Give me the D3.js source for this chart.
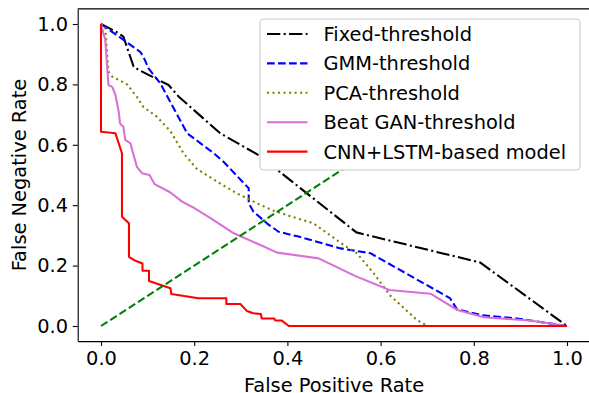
<!DOCTYPE html>
<html>
<head>
<meta charset="utf-8">
<script src="https://cdn.jsdelivr.net/npm/d3@7"></script>
<style>
  body { margin: 0; background: #fff; }
  svg { display: block; font-family: "DejaVu Sans", sans-serif; }
</style>
</head>
<body>
<div class="roc-canvas"></div>
<script>
// [false positive rate, false negative rate]
var fixedPts = [[0, 1], [0.004, 0.997], [0.037, 0.97], [0.048, 0.958], [0.07, 0.859], [0.081, 0.848],
  [0.145, 0.798], [0.167, 0.759], [0.256, 0.638], [0.338, 0.566], [0.548, 0.31], [0.814, 0.21], [1, 0]];

var gmmPts = [[0, 1], [0.084, 0.908], [0.091, 0.892], [0.102, 0.853], [0.127, 0.804], [0.185, 0.638],
  [0.242, 0.572], [0.263, 0.544], [0.317, 0.456], [0.317, 0.406], [0.327, 0.379], [0.356, 0.34],
  [0.381, 0.312], [0.424, 0.296], [0.514, 0.257], [0.571, 0.243], [0.578, 0.241], [0.749, 0.092],
  [0.764, 0.055], [0.816, 0.036], [0.893, 0.025], [1, 0]];

var pcaPts = [[0, 1], [0.009, 0.99], [0.016, 0.842], [0.024, 0.826], [0.056, 0.8], [0.077, 0.759],
  [0.091, 0.725], [0.12, 0.693], [0.149, 0.645], [0.177, 0.572], [0.206, 0.52], [0.249, 0.478],
  [0.292, 0.439], [0.335, 0.406], [0.37, 0.382], [0.424, 0.355], [0.456, 0.34], [0.521, 0.268],
  [0.549, 0.241], [0.585, 0.175], [0.621, 0.1], [0.678, 0.02], [0.7, 0], [1, 0]];

var beatGanPts = [[0, 1], [0.006, 0.964], [0.009, 0.95], [0.013, 0.864], [0.016, 0.798], [0.024, 0.792],
  [0.031, 0.765], [0.038, 0.71], [0.041, 0.67], [0.048, 0.66], [0.052, 0.616], [0.063, 0.605],
  [0.077, 0.527], [0.088, 0.506], [0.104, 0.5], [0.115, 0.47], [0.149, 0.442], [0.174, 0.412],
  [0.195, 0.395], [0.235, 0.357], [0.285, 0.307], [0.342, 0.268], [0.378, 0.243], [0.467, 0.224],
  [0.545, 0.166], [0.619, 0.119], [0.707, 0.107], [0.765, 0.053], [0.821, 0.029], [0.92, 0.018], [1, 0]];

var cnnLstmPts = [[0, 1], [0, 0.643], [0.031, 0.638], [0.045, 0.572], [0.045, 0.362], [0.06, 0.34],
  [0.06, 0.229], [0.074, 0.216], [0.089, 0.207], [0.089, 0.183], [0.103, 0.183], [0.103, 0.149],
  [0.149, 0.125], [0.151, 0.106], [0.209, 0.092], [0.269, 0.092], [0.269, 0.073], [0.299, 0.073],
  [0.313, 0.05], [0.327, 0.042], [0.343, 0.04], [0.345, 0.025], [0.372, 0.025], [0.374, 0.018],
  [0.388, 0.018], [0.403, 0], [1, 0]];

var chancePts = [[0, 0], [1, 1]];

var seriesNames = ["Fixed-threshold", "GMM-threshold", "PCA-threshold", "Beat GAN-threshold", "CNN+LSTM-based model"];
var tickValues = [0, 0.2, 0.4, 0.6, 0.8, 1.0];

var width = 589, height = 393;
var fontSize = 19.4;
var lw = 2.08;

var svg = d3.select(".roc-canvas")
  .append("svg")
  .attr("width", width)
  .attr("height", height);

var x = d3.scaleLinear()
  .domain([-0.05, 1.05])
  .range([77.7, 590.3]);

var y = d3.scaleLinear()
  .domain([-0.05, 1.05])
  .range([341.1, 8.9]);

var line = d3.line()
  .x(d => x(d[0]))
  .y(d => y(d[1]));

var styles = [
  { data: fixedPts, color: "#000000", dash: [6.4, 1.6, 1, 1.6] },
  { data: gmmPts, color: "#0000ff", dash: [3.7, 1.6] },
  { data: pcaPts, color: "#808000", dash: [1, 1.65] },
  { data: beatGanPts, color: "#da70d6", dash: null },
  { data: cnnLstmPts, color: "#ff0000", dash: null }
];

function dashArray(d) {
  return d ? d.map(v => v * lw).join(",") : null;
}

var plot = svg.append("g");

styles.forEach(s => {
  plot.append("path")
    .datum(s.data)
    .attr("fill", "none")
    .attr("stroke", s.color)
    .attr("stroke-width", lw)
    .attr("stroke-linejoin", "round")
    .attr("stroke-dasharray", dashArray(s.dash))
    .attr("d", line);
});

plot.append("path")
  .datum(chancePts)
  .attr("fill", "none")
  .attr("stroke", "#008000")
  .attr("stroke-width", lw)
  .attr("stroke-dasharray", dashArray([3.7, 1.6]))
  .attr("d", line);

// axes
var xAxis = g => g
  .attr("transform", `translate(0,${y(-0.05)})`)
  .call(d3.axisBottom(x).tickValues(tickValues).tickFormat(d3.format(".1f"))
    .tickSizeInner(4.86).tickSizeOuter(0).tickPadding(4.86));

var yAxis = g => g
  .attr("transform", `translate(${x(-0.05)},0)`)
  .call(d3.axisLeft(y).tickValues(tickValues).tickFormat(d3.format(".1f"))
    .tickSizeInner(4.86).tickSizeOuter(0).tickPadding(4.86));

svg.append("g").call(xAxis);
svg.append("g").call(yAxis);

svg.selectAll(".domain").attr("stroke", "#000").attr("stroke-width", 1.1);
svg.selectAll(".tick line").attr("stroke", "#000").attr("stroke-width", 1.1);
svg.selectAll(".tick text")
  .attr("fill", "#000")
  .style("font-family", "DejaVu Sans")
  .style("font-size", fontSize + "px");

// top and right spines
svg.append("line")
  .attr("x1", x(-0.05)).attr("x2", x(1.05))
  .attr("y1", y(1.05)).attr("y2", y(1.05))
  .attr("stroke", "#000").attr("stroke-width", 1.1);
svg.append("line")
  .attr("x1", x(1.05)).attr("x2", x(1.05))
  .attr("y1", y(1.05)).attr("y2", y(-0.05))
  .attr("stroke", "#000").attr("stroke-width", 1.1);

svg.append("text")
  .attr("x", x(0.5))
  .attr("y", 391.5)
  .attr("text-anchor", "middle")
  .style("font-size", fontSize + "px")
  .text("False Positive Rate");

svg.append("text")
  .attr("transform", `translate(25.5,${y(0.5)}) rotate(-90)`)
  .attr("text-anchor", "middle")
  .style("font-size", fontSize + "px")
  .text("False Negative Rate");

// legend
var legend = svg.append("g");

legend.append("rect")
  .attr("x", 260).attr("y", 19)
  .attr("width", 320).attr("height", 151)
  .attr("rx", 4).attr("ry", 4)
  .attr("fill", "#fff")
  .attr("stroke", "#cccccc").attr("stroke-width", 1.1);

seriesNames.forEach((name, i) => {
  var cy = 34 + i * 29.4;
  legend.append("line")
    .attr("x1", 267).attr("x2", 307.5)
    .attr("y1", cy).attr("y2", cy)
    .attr("stroke", styles[i].color)
    .attr("stroke-width", lw)
    .attr("stroke-dasharray", dashArray(styles[i].dash));
  legend.append("text")
    .attr("x", 323.5)
    .attr("y", cy + 7)
    .style("font-size", fontSize + "px")
    .text(name);
});
</script>
</body>
</html>
